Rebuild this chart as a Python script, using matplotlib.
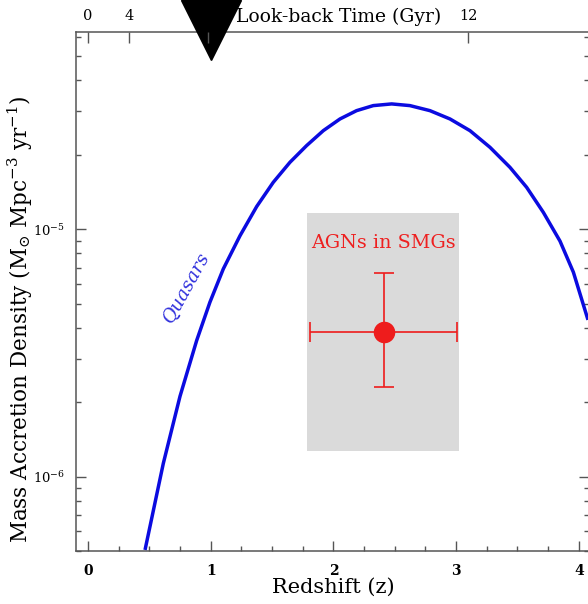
import matplotlib
matplotlib.use("Agg")
import matplotlib.pyplot as plt
import matplotlib.transforms as mtransforms
from matplotlib.patches import Rectangle
from matplotlib.ticker import FixedLocator, LogLocator, NullFormatter, MultipleLocator

plt.rcParams['font.family'] = ['DejaVu Serif']
plt.rcParams['mathtext.fontset'] = 'dejavuserif'

# Quasar mass accretion density history
redshift = [0.465, 0.614, 0.750, 0.886, 0.994, 1.103, 1.239, 1.375, 1.510,
            1.646, 1.782, 1.918, 2.054, 2.189, 2.325, 2.475, 2.624, 2.787,
            2.950, 3.113, 3.276, 3.439, 3.575, 3.711, 3.847, 3.956, 4.075]
accretion = [5.05e-7, 1.13e-6, 2.11e-6, 3.55e-6, 5.07e-6, 6.91e-6, 9.41e-6,
             1.235e-5, 1.547e-5, 1.864e-5, 2.178e-5, 2.503e-5, 2.791e-5,
             3.015e-5, 3.16e-5, 3.21e-5, 3.16e-5, 3.015e-5, 2.791e-5,
             2.503e-5, 2.144e-5, 1.779e-5, 1.477e-5, 1.17e-5, 8.95e-6,
             6.70e-6, 4.30e-6]

# AGNs in submillimetre galaxies: point, error bars and shaded range
smg_z = 2.41
smg_z_lo, smg_z_hi = 1.81, 3.005
smg_rate = 3.84e-6
smg_rate_lo, smg_rate_hi = 2.31e-6, 6.65e-6
box_z = (1.787, 3.026)
box_rate = (1.27e-6, 1.16e-5)

# Look-back time axis (Gyr) and the redshifts where those ticks fall
lookback_gyr = [0, 4, 8, 12]
lookback_z = [0.0, 0.335, 0.98, 3.10]

# Epoch marker
marker_z = 1.0

x_range = (-0.1, 4.08)
y_range = (5.0e-7, 6.27e-5)

W, H = 588, 604
fig = plt.figure(figsize=(W / 100, H / 100), dpi=100)
ax = fig.add_axes([75.7 / W, 53 / H, 512.9 / W, 519 / H])

ax.set_yscale('log')
ax.set_xlim(*x_range)
ax.set_ylim(*y_range)

spine_col = '#555555'
for s in ax.spines.values():
    s.set_color(spine_col)
    s.set_linewidth(1.1)
ax.spines['right'].set_visible(False)

ax.add_patch(Rectangle((box_z[0], box_rate[0]), box_z[1] - box_z[0],
                       box_rate[1] - box_rate[0], facecolor='#dadada',
                       edgecolor='none', zorder=1))

ax.plot(redshift, accretion, color='#0b0be0', lw=2.5, zorder=3,
        solid_capstyle='butt', solid_joinstyle='round')

ax.errorbar([smg_z], [smg_rate],
            xerr=[[smg_z - smg_z_lo], [smg_z_hi - smg_z]],
            yerr=[[smg_rate - smg_rate_lo], [smg_rate_hi - smg_rate]],
            fmt='o', color='#ee1c1c', ms=14.5, elinewidth=1.2,
            capsize=7.2, capthick=1.2, zorder=4)

ax.text(smg_z, 8.77e-6, 'AGNs in SMGs', color='#ee2020', fontsize=13.8,
        ha='center', va='center', zorder=5)
ax.text(0.80, 5.82e-6, 'Quasars', color='#3333dd', fontsize=13.5,
        style='italic', rotation=61, ha='center', va='center',
        rotation_mode='anchor', zorder=5)

# bottom/left/right ticks
ax.xaxis.set_major_locator(MultipleLocator(1))
ax.xaxis.set_minor_locator(MultipleLocator(0.25))
ax.yaxis.set_major_locator(LogLocator(base=10, numticks=10))
ax.yaxis.set_minor_locator(LogLocator(base=10, subs=range(2, 10), numticks=20))
ax.yaxis.set_minor_formatter(NullFormatter())
ax.tick_params(which='both', direction='in', top=False, right=True,
               color=spine_col, width=1.0)
ax.tick_params(which='major', length=7.5)
ax.tick_params(which='minor', length=3.8)
ax.tick_params(axis='x', which='major', pad=9.5, labelsize=10)
ax.tick_params(axis='y', which='major', pad=7.5, labelsize=9.5)
for lab in ax.get_xticklabels():
    lab.set_fontweight('bold')

ax.set_xlabel('Redshift (z)', fontsize=15)
ax.xaxis.set_label_coords(0.5026, -0.0695)
ax.xaxis.label.set_va('center')
ax.set_ylabel(r'Mass Accretion Density (M$_{\odot}$ Mpc$^{-3}$ yr$^{-1}$)',
              fontsize=15.5)
ax.yaxis.set_label_coords(-0.1086, 0.446)
ax.yaxis.label.set_va('center')

# look-back time along the top
ax_top = ax.twiny()
ax_top.set_xlim(ax.get_xlim())
ax_top.xaxis.set_major_locator(FixedLocator(lookback_z))
ax_top.set_xticklabels([str(v) for v in lookback_gyr])
ax_top.tick_params(axis='x', direction='in', length=8, width=1.0,
                   color=spine_col, pad=6.5, labelsize=10.5)
ax_top.xaxis.set_minor_locator(FixedLocator([]))
for s in ax_top.spines.values():
    s.set_visible(False)
ax_top.text(0.512, 1.029, 'Look-back Time (Gyr)', transform=ax_top.transAxes,
            ha='center', va='center', fontsize=13.5)

# epoch marker hanging from the top edge
blend = mtransforms.blended_transform_factory(ax.transData, ax.transAxes)
ax.plot([marker_z], [1.004], marker='v', ms=43, color='black',
        transform=blend, clip_on=False, zorder=10)

fig.savefig('out.png', dpi=100)
